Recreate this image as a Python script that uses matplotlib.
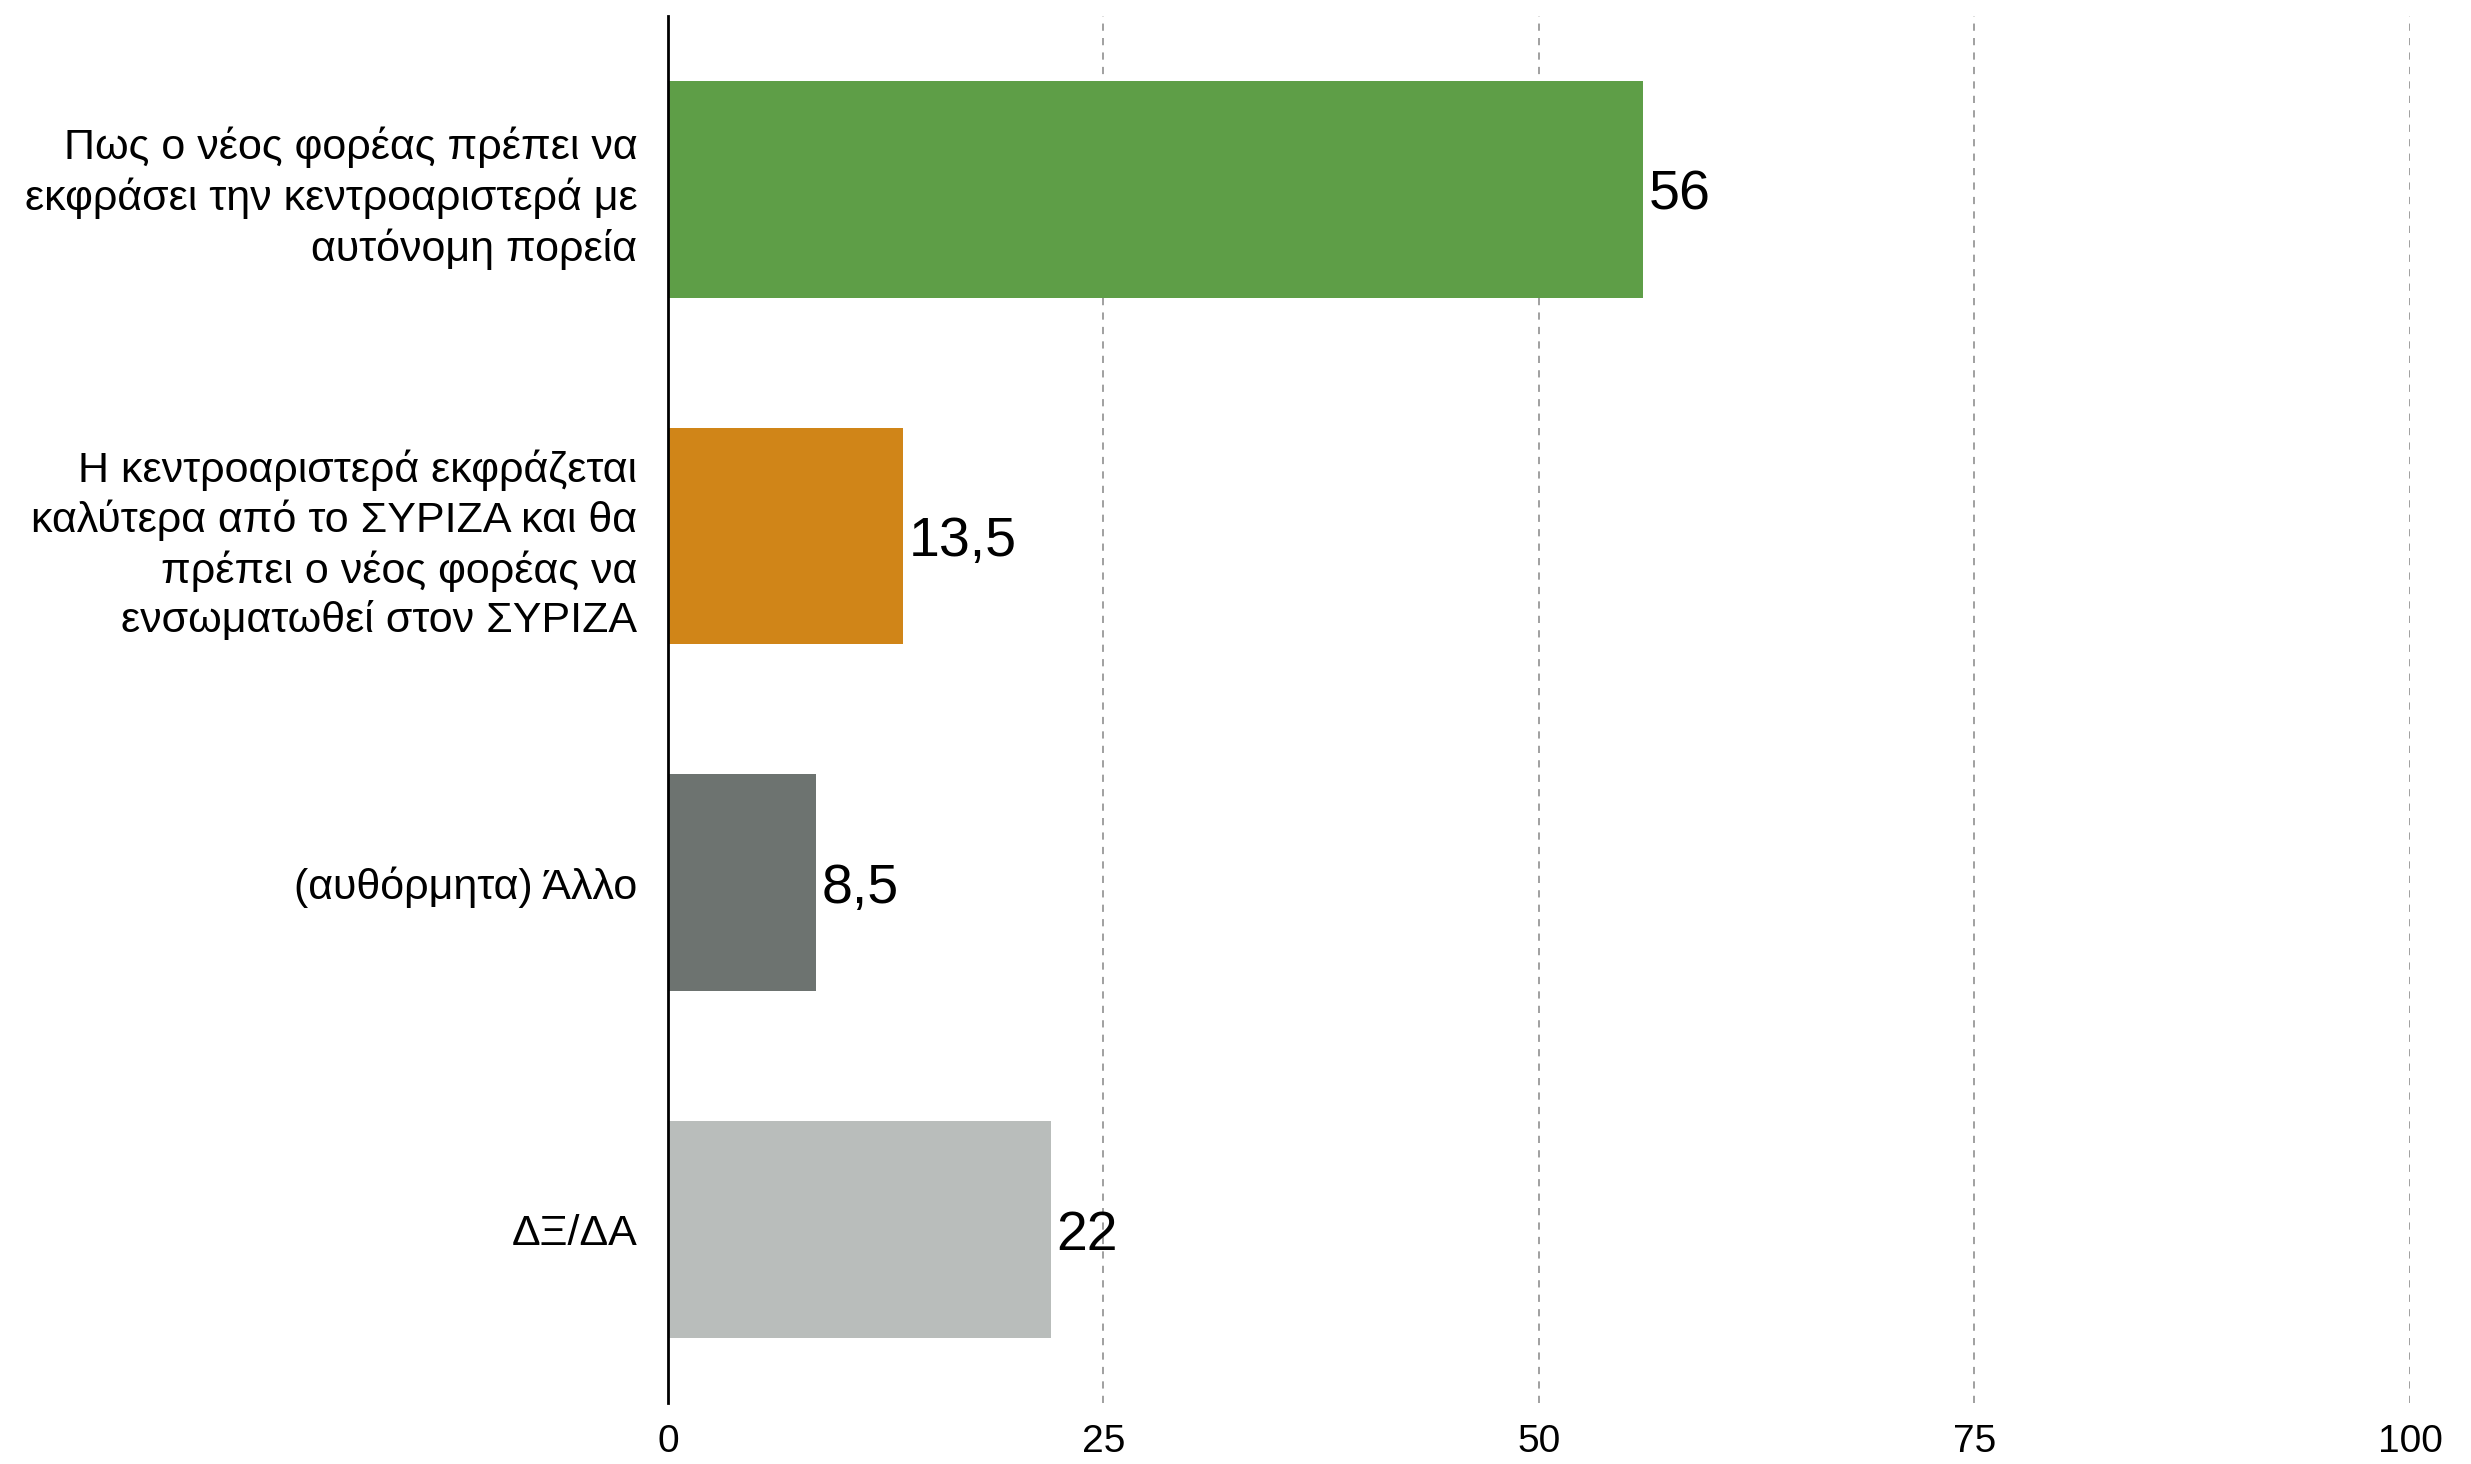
import matplotlib.pyplot as plt

plt.rcParams['font.family'] = ['Liberation Sans', 'DejaVu Sans']

categories = [
    'Πως ο νέος φορέας πρέπει να\nεκφράσει την κεντροαριστερά με\nαυτόνομη πορεία',
    'Η κεντροαριστερά εκφράζεται\nκαλύτερα από το ΣΥΡΙΖΑ και θα\nπρέπει ο νέος φορέας να\nενσωματωθεί στον ΣΥΡΙΖΑ',
    '(αυθόρμητα) Άλλο',
    'ΔΞ/ΔΑ',
]
values = [56, 13.5, 8.5, 22]
value_labels = ['56', '13,5', '8,5', '22']
colors = ['#5E9E47', '#D08518', '#6D7370', '#B9BDBB']
xticks = [0, 25, 50, 75, 100]

fig = plt.figure(figsize=(24.71, 14.64), dpi=100)
ax = fig.add_axes([0.2703, 0.0417, 0.705, 0.9475])

ypos = list(range(len(categories)))
ax.barh(ypos, values, height=0.625, color=colors, zorder=3)

for y, v, lab in zip(ypos, values, value_labels):
    ax.text(v + 0.3, y, lab, va='center_baseline', ha='left', fontsize=40, color='black', zorder=4)

ax.set_xlim(0, 100)
ax.set_ylim(3.5, -0.5)
ax.set_xticks(xticks)
ax.set_xticklabels([str(t) for t in xticks], fontsize=28)
ax.set_yticks(ypos)
ax.set_yticklabels(categories, fontsize=31, linespacing=1.28)
ax.tick_params(axis='x', length=0, pad=15)
ax.tick_params(axis='y', length=0, pad=22)

for t in xticks[1:]:
    ax.axvline(t, color='#999999', linestyle=(0, (4, 4)), linewidth=1.3, zorder=1)

for s in ['top', 'right', 'bottom']:
    ax.spines[s].set_visible(False)
ax.spines['left'].set_linewidth(2)
ax.spines['left'].set_color('black')
ax.spines['left'].set_zorder(5)

fig.savefig('out.png', dpi=100)
